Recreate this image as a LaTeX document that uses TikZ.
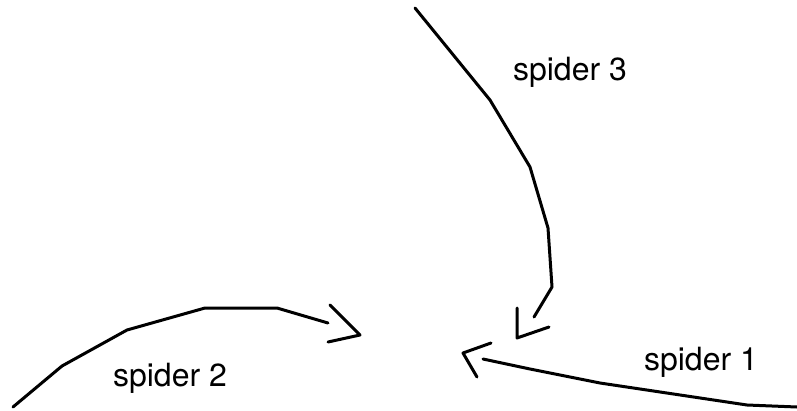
\documentclass[tikz,border=0pt]{standalone}
\usepackage{fontspec}
\setmainfont{TeX Gyre Heros}
\usepackage{tikz}
\tikzstyle{stroke} = [line width=3pt, line cap=round, line join=round]
\tikzstyle{label} = [font=\fontsize{32}{38}\selectfont, anchor=base, inner sep=0pt]

\begin{document}
\begin{tikzpicture}[x=1pt, y=-1pt]
        \useasboundingbox (0,0) rectangle (797,410);

        \node (spider_three) [label] at (570,80) {spider 3};
        \node (spider_two) [label] at (170,386) {spider 2};
        \node (spider_one) [label] at (701,370) {spider 1};

        \coordinate (tip_three) at (517,338);
        \coordinate (tip_two) at (360,335);
        \coordinate (tip_one) at (463,353);

        % spider 3
        \draw [stroke] (415,8) -- (490,100) -- (530,167) -- (548,228) -- (552,287) -- (534,317);
        \draw [stroke] (517,308) -- (tip_three) -- (549,327);

        % spider 2
        \draw [stroke] (13,407) -- (62,366) -- (127,330) -- (205,308) -- (277,308) -- (328,323);
        \draw [stroke] (330,305) -- (tip_two) -- (328,342);

        % spider 1
        \draw [stroke] (797,407) -- (747,405) -- (600,383) -- (530,369) -- (483,359);
        \draw [stroke] (491,343) -- (tip_one) -- (477,377);

    \end{tikzpicture}
\end{document}
